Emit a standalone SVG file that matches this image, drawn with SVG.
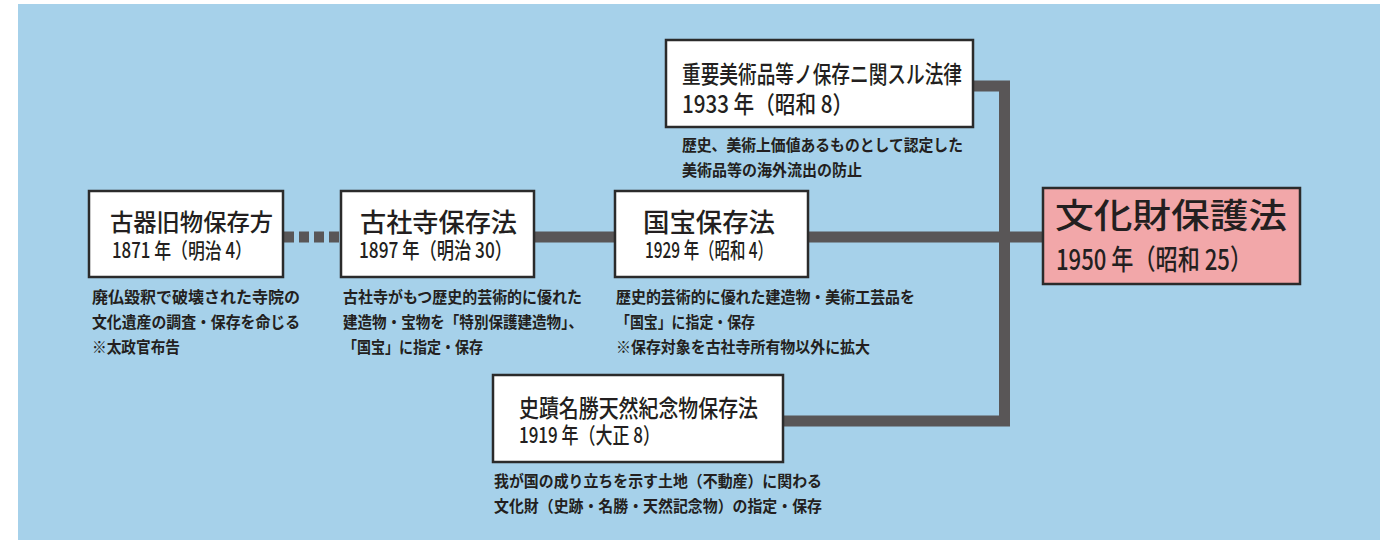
<svg xmlns="http://www.w3.org/2000/svg" width="1397" height="540" viewBox="0 0 1397 540">
<style>
.box{fill:#ffffff;stroke:#2b2b2b;stroke-width:2.5}
.main{fill:#f2a7a9;stroke:#2b2b2b;stroke-width:2.5}
.ln{fill:none;stroke:#595657;stroke-width:11;stroke-linejoin:miter}
.t{font-family:"Noto Sans CJK JP","Noto Sans",sans-serif;fill:#231f20;font-weight:500}
.d{font-family:"Noto Sans CJK JP","Noto Sans",sans-serif;fill:#231f20;font-weight:700;font-size:16px}
</style>
<rect x="0" y="0" width="1397" height="540" fill="#ffffff"/>
<rect x="18" y="4" width="1362" height="536" fill="#a6d1ea"/>
<g id="connectors">
<line class="ln" x1="283" y1="237" x2="342" y2="237" stroke-dasharray="10 5" stroke-dashoffset="-1"/>
<line class="ln" x1="534" y1="237" x2="1043" y2="237"/>
<path class="ln" d="M973,86 H1004.5 V421 H783"/>
</g>
<g id="node1">
<rect class="box" x="89" y="191" width="194" height="86"/>
<text class="t" x="110" y="231" font-size="24" textLength="163" lengthAdjust="spacingAndGlyphs">古器旧物保存方</text>
<text class="t" x="112" y="258" font-size="21" textLength="140" lengthAdjust="spacingAndGlyphs">1871 年（明治 4）</text>
<text class="d" x="92" y="303" textLength="208" lengthAdjust="spacingAndGlyphs">廃仏毀釈で破壊された寺院の</text>
<text class="d" x="92" y="328" textLength="208" lengthAdjust="spacingAndGlyphs">文化遺産の調査・保存を命じる</text>
<text class="d" x="92" y="353" textLength="88" lengthAdjust="spacingAndGlyphs">※太政官布告</text>
</g>
<g id="node2">
<rect class="box" x="341" y="191" width="193" height="86"/>
<text class="t" x="360" y="232" font-size="26" textLength="157" lengthAdjust="spacingAndGlyphs">古社寺保存法</text>
<text class="t" x="359" y="258" font-size="22" textLength="153" lengthAdjust="spacingAndGlyphs">1897 年（明治 30）</text>
<text class="d" x="343" y="303" textLength="239" lengthAdjust="spacingAndGlyphs">古社寺がもつ歴史的芸術的に優れた</text>
<text class="d" x="343" y="328" textLength="240" lengthAdjust="spacingAndGlyphs">建造物・宝物を「特別保護建造物」、</text>
<text class="d" x="343" y="353" textLength="140" lengthAdjust="spacingAndGlyphs">「国宝」に指定・保存</text>
</g>
<g id="node3">
<rect class="box" x="615" y="191" width="193" height="86"/>
<text class="t" x="643" y="232" font-size="26" textLength="132" lengthAdjust="spacingAndGlyphs">国宝保存法</text>
<text class="t" x="645" y="258" font-size="22" textLength="128" lengthAdjust="spacingAndGlyphs">1929 年（昭和 4）</text>
<text class="d" x="616" y="303" textLength="299" lengthAdjust="spacingAndGlyphs">歴史的芸術的に優れた建造物・美術工芸品を</text>
<text class="d" x="616" y="328" textLength="139" lengthAdjust="spacingAndGlyphs">「国宝」に指定・保存</text>
<text class="d" x="616" y="353" textLength="254" lengthAdjust="spacingAndGlyphs">※保存対象を古社寺所有物以外に拡大</text>
</g>
<g id="node4">
<rect class="box" x="666" y="40" width="307" height="87"/>
<text class="t" x="682" y="83" font-size="24" textLength="280" lengthAdjust="spacingAndGlyphs">重要美術品等ノ保存ニ関スル法律</text>
<text class="t" x="682" y="113" font-size="24" textLength="171" lengthAdjust="spacingAndGlyphs">1933 年（昭和 8）</text>
<text class="d" x="682" y="151" textLength="281" lengthAdjust="spacingAndGlyphs">歴史、美術上価値あるものとして認定した</text>
<text class="d" x="682" y="176" textLength="180" lengthAdjust="spacingAndGlyphs">美術品等の海外流出の防止</text>
</g>
<g id="node5">
<rect class="main" x="1043" y="188" width="257" height="96"/>
<text class="t" x="1055" y="228" font-size="34" textLength="232" lengthAdjust="spacingAndGlyphs">文化財保護法</text>
<text class="t" x="1056" y="270" font-size="28" textLength="196" lengthAdjust="spacingAndGlyphs">1950 年（昭和 25）</text>
</g>
<g id="node6">
<rect class="box" x="493" y="375" width="290" height="87"/>
<text class="t" x="519" y="417" font-size="24" textLength="239" lengthAdjust="spacingAndGlyphs">史蹟名勝天然紀念物保存法</text>
<text class="t" x="519" y="443" font-size="22" textLength="141" lengthAdjust="spacingAndGlyphs">1919 年（大正 8）</text>
<text class="d" x="494" y="487" textLength="328" lengthAdjust="spacingAndGlyphs">我が国の成り立ちを示す土地（不動産）に関わる</text>
<text class="d" x="494" y="512" textLength="328" lengthAdjust="spacingAndGlyphs">文化財（史跡・名勝・天然記念物）の指定・保存</text>
</g>
</svg>
